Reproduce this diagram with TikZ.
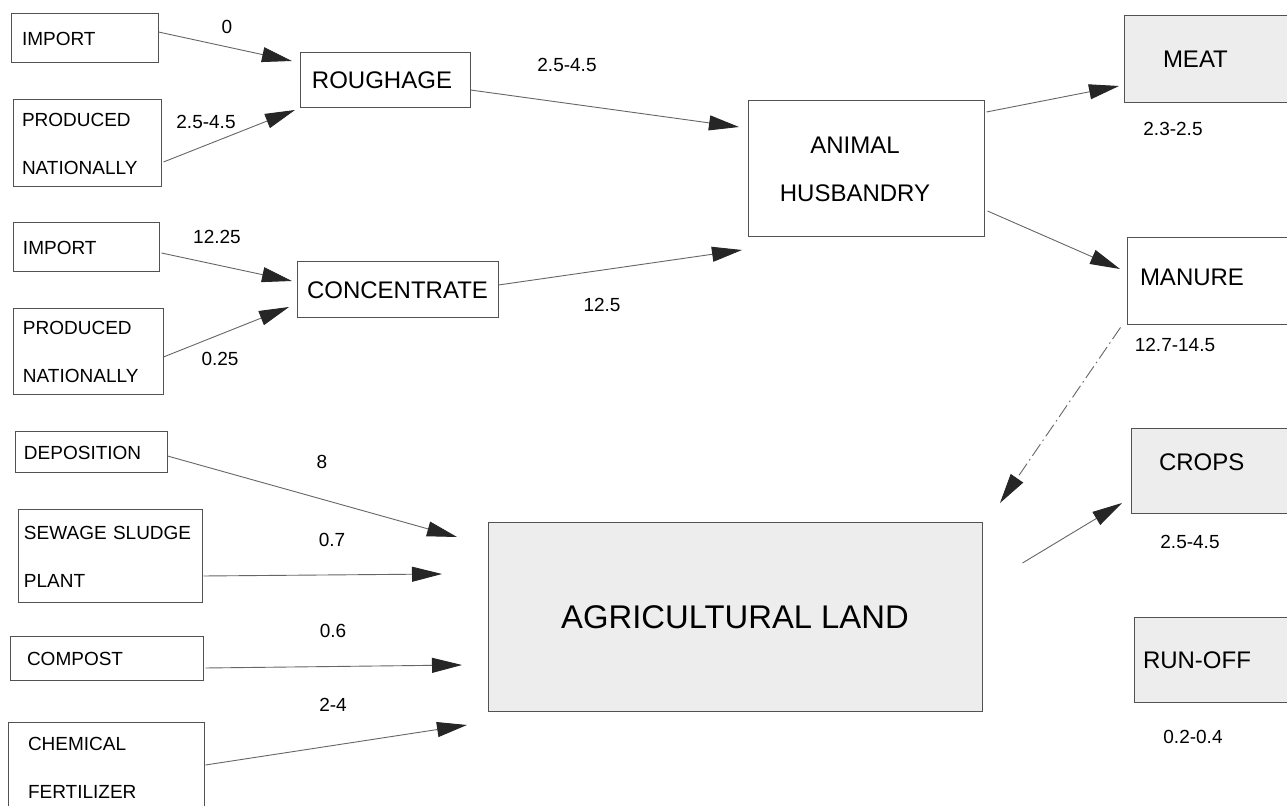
\documentclass[tikz,border=0pt]{standalone}
\usepackage{fontspec}
\setmainfont{Liberation Sans}
\usetikzlibrary{arrows.meta}

\tikzset{
  box/.style={draw=black!68, line width=0.5pt, inner ysep=0pt},
  % left-aligned box: inner xsep, text width, height
  lbox/.style n args={3}{box, inner xsep=#1, text width=#2, minimum height=#3,
    align=left, font=\fontsize{9.5}{24}\selectfont},
  % centred box: width, height
  cbox/.style 2 args={box, inner xsep=0pt, text width=#1, minimum height=#2,
    align=center, font=\fontsize{12}{24}\selectfont},
  shaded/.style={fill=black!7},
  flow/.style={draw=black!60, line width=0.45pt,
    -{Triangle[length=15pt,width=7.5pt,color=black!85]}},
  dashflow/.style={flow, dash pattern=on 7pt off 2pt on 0.8pt off 2pt},
  val/.style={font=\fontsize{9.5}{11}\selectfont, inner sep=0pt},
}

\begin{document}
\begin{tikzpicture}[x=0.5pt, y=-0.5pt]
\clip (0,0) rectangle (1287,806);
\fill[white] (0,0) rectangle (1287,806);

% ---- sources of roughage and concentrate
\node[lbox={5.5pt}{62.5pt}{24.5pt}] (imp1) at (84.5,38.5) {IMPORT};
\node[lbox={4.5pt}{65pt}{43.5pt}] (pn1) at (87,143.5) {PRODUCED\\NATIONALLY};
\node[lbox={5pt}{63pt}{24.5pt}] (imp2) at (86,247.5) {IMPORT};
\node[lbox={5pt}{65pt}{43pt}] (pn2) at (88,352) {PRODUCED\\NATIONALLY};

\node[cbox={85pt}{27.5pt}] (rough) at (385,80.5) {\hspace*{-3pt}ROUGHAGE};
\node[cbox={100.5pt}{28pt}] (conc) at (397.5,290) {CONCENTRATE};
\node[cbox={118pt}{68pt}] (ah) at (866,169) {\hspace*{-11pt}ANIMAL\\\hspace*{-11pt}HUSBANDRY};

% ---- outputs on the right
\node[lbox={19.5pt}{49pt}{43.5pt}, shaded, font=\fontsize{12}{14}\selectfont] (meat) at (1212,59.5) {MEAT};
\node[lbox={6.5pt}{73.5pt}{43.5pt}, text depth=4.5pt, font=\fontsize{12}{14}\selectfont] (manure) at (1213.5,281.5) {MANURE};
\node[lbox={14pt}{56.5pt}{42.5pt}, shaded, text depth=9.5pt, font=\fontsize{12}{14}\selectfont] (crops) at (1215.5,471.5) {CROPS};
\node[lbox={4.5pt}{74pt}{42.5pt}, shaded, font=\fontsize{12}{14}\selectfont] (runoff) at (1217,660.5) {RUN-OFF};

% ---- inputs to the land
\node[lbox={4.5pt}{67pt}{20.5pt}] (dep) at (91,452.5) {DEPOSITION};
\node[lbox={3pt}{86pt}{46.5pt}] (sew) at (110,556.5) {SEWAGE SLUDGE\\PLANT};
\node[lbox={8.5pt}{79.5pt}{22pt}] (comp) at (106.5,659) {COMPOST};
\node[lbox={10pt}{78pt}{44.5pt}] (chem) at (106,767.5) {CHEMICAL\\FERTILIZER};

\node[box, shaded, minimum width=247pt, minimum height=94.5pt,
  font=\fontsize{16.4}{18}\selectfont] (agri) at (735,617.5) {AGRICULTURAL LAND};

% ---- arrow tips
\coordinate (t1) at (292,61);
\coordinate (t2) at (295,110);
\coordinate (t3) at (739,127);
\coordinate (t4) at (292,281);
\coordinate (t5) at (289,307);
\coordinate (t6) at (742,250);
\coordinate (t7) at (1119,86);
\coordinate (t8) at (1120,269);
\coordinate (t9) at (1000,503);
\coordinate (t10) at (1122,503);
\coordinate (t11) at (457,537);
\coordinate (t12) at (442,574);
\coordinate (t13) at (462,665);
\coordinate (t14) at (467,725);

% ---- flows
\draw[flow] ([yshift=3.25pt]imp1.east) -- (t1);
\draw[flow] ([xshift=1pt,yshift=-9.25pt]pn1.east) -- (t2);
\draw[flow] ([yshift=-4.75pt]rough.east) -- (t3);
\draw[flow] ([xshift=1pt,yshift=-2.75pt]imp2.east) -- (t4);
\draw[flow] ([yshift=-2.5pt]pn2.east) -- (t5);
\draw[flow] ([yshift=2.5pt]conc.east) -- (t6);
\draw[flow] ([xshift=1pt,yshift=28.5pt]ah.east) -- (t7);
\draw[flow] ([xshift=1.5pt,yshift=-21pt]ah.east) -- (t8);
\draw[dashflow] ([xshift=-3pt,yshift=-1pt]manure.south west) -- (t9);
\draw[flow] ([xshift=20pt,yshift=27.25pt]agri.east) -- (t10);
\draw[flow] ([yshift=-1.75pt]dep.east) -- (t11);
\draw[flow] ([xshift=0.5pt,yshift=-9.75pt]sew.east) -- (t12);
\draw[flow] ([xshift=1pt,yshift=-4.5pt]comp.east) -- (t13);
\draw[flow] ([xshift=0.5pt,yshift=1.25pt]chem.east) -- (t14);

% ---- flow values
\node[val] (v1) at (227,27) {0};
\node[val] (v2) at (206,122) {2.5-4.5};
\node[val] (v3) at (567,65) {2.5-4.5};
\node[val] (v4) at (217,237) {12.25};
\node[val] (v5) at (220,359) {0.25};
\node[val] (v6) at (602,305) {12.5};
\node[val] (v7) at (1173,129) {2.3-2.5};
\node[val] (v8) at (1175,345) {12.7-14.5};
\node[val] (v9) at (1190,542) {2.5-4.5};
\node[val] (v10) at (1193,737) {0.2-0.4};
\node[val] (v11) at (322,462) {8};
\node[val] (v12) at (332,540) {0.7};
\node[val] (v13) at (333,631) {0.6};
\node[val] (v14) at (333,705) {2-4};
\end{tikzpicture}
\end{document}
